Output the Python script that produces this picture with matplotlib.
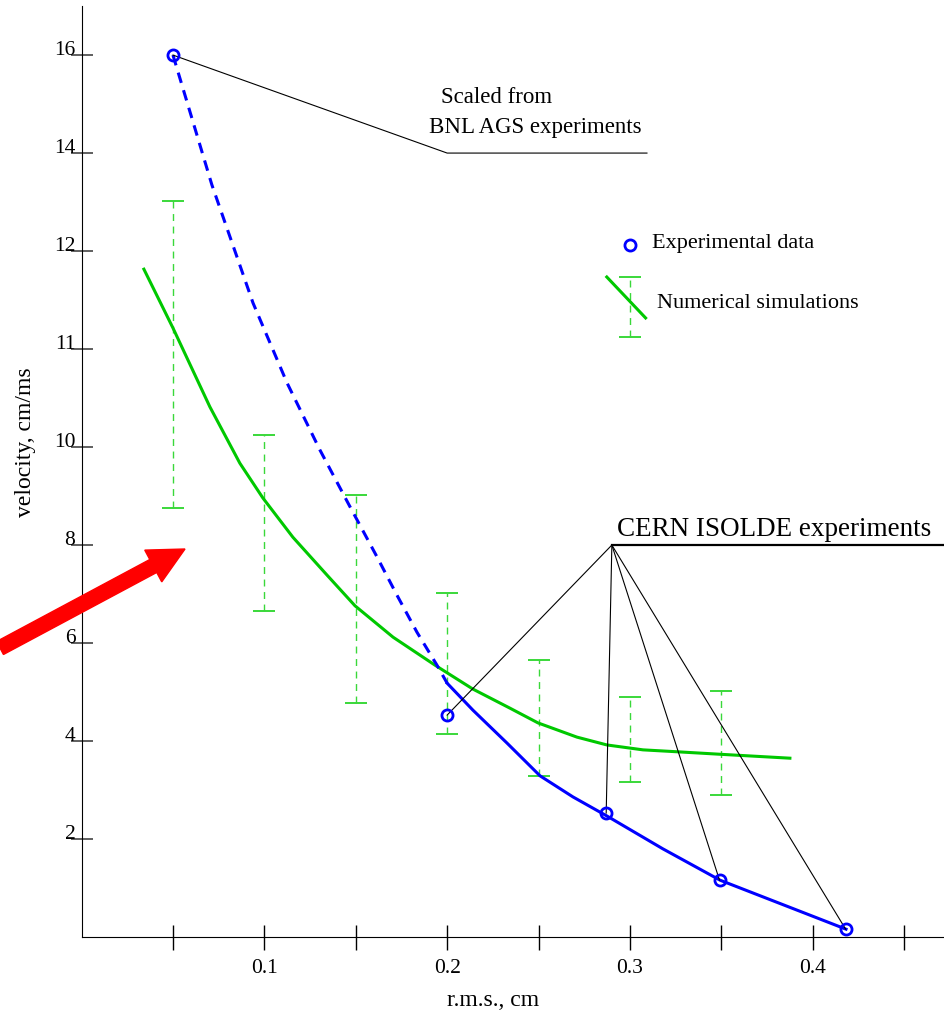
import numpy as np
import matplotlib
matplotlib.use('Agg')
import matplotlib.pyplot as plt
from matplotlib.patches import FancyArrow
from matplotlib.transforms import IdentityTransform

plt.rcParams['font.family'] = ['Liberation Serif', 'DejaVu Serif']

# Experimental data (circles)
exp_x = [0.05, 0.2, 0.287, 0.349, 0.418]
exp_y = [18.0, 4.53, 2.53, 1.16, 0.16]

# Dashed curve (scaled BNL AGS)
bnl_x = [0.05, 0.0713, 0.0938, 0.1124, 0.1304, 0.1463, 0.1616, 0.1725,
         0.1835, 0.1944, 0.2]
bnl_y = [18.0, 15.35, 12.94, 11.31, 9.94, 8.82, 7.76, 6.98,
         6.22, 5.55, 5.18]

# Solid blue curve (CERN ISOLDE)
cern_x = [0.2, 0.2141, 0.2327, 0.2508, 0.2688, 0.2874, 0.3180, 0.3493, 0.4182]
cern_y = [5.18, 4.63, 3.96, 3.29, 2.86, 2.47, 1.80, 1.16, 0.16]

# Numerical simulations curve
sim_x = [0.0341, 0.05, 0.0702, 0.0866, 0.0992, 0.1156, 0.1342, 0.1496,
         0.1704, 0.1933, 0.2141, 0.2344, 0.2497, 0.2710, 0.2874, 0.3071,
         0.3262, 0.3493, 0.3875]
sim_y = [13.63, 12.43, 10.82, 9.67, 8.96, 8.16, 7.39, 6.76,
         6.12, 5.55, 5.06, 4.67, 4.37, 4.08, 3.92, 3.82,
         3.78, 3.73, 3.65]

# Simulation error bars
err_x = [0.05, 0.1, 0.15, 0.2, 0.25, 0.3, 0.35]
err_lo = [8.76, 6.65, 4.78, 4.14, 3.29, 3.16, 2.90]
err_hi = [15.02, 10.24, 9.02, 7.02, 5.65, 4.90, 5.02]

# y axis ticks (labels as printed in the original)
ytick_pos = [2, 4, 6, 8, 10, 12, 14, 16, 18]
ytick_lab = ['2', '4', '6', '8', '10', '11', '12', '14', '16']

blue = '#0000ff'
green = '#00c800'
lgreen = '#3ad83a'

fig = plt.figure(figsize=(9.44, 10.13), dpi=100)
ax = fig.add_axes([0.0864, 0.075, 0.9136, 0.919])
ax.set_xlim(0, 0.4718)
ax.set_ylim(0, 19.0)
ax.spines['top'].set_visible(False)
ax.spines['right'].set_visible(False)

# error bars
ax.vlines(err_x, err_lo, err_hi, colors=lgreen, linestyles=(0, (5, 4)), lw=1.0)
ax.plot(err_x, err_lo, ls='none', marker='_', ms=16, mew=1.4, color=lgreen)
ax.plot(err_x, err_hi, ls='none', marker='_', ms=16, mew=1.4, color=lgreen)

# curves
ax.plot(sim_x, sim_y, color=green, lw=2.2, solid_joinstyle='round')
ax.plot(bnl_x, bnl_y, color=blue, lw=2.2, dashes=(3.5, 2.5))
ax.plot(cern_x, cern_y, color=blue, lw=2.2, solid_joinstyle='round')

# annotation lines
hub = (0.2901, 8.0)
for px, py in zip(exp_x[1:], exp_y[1:]):
    ax.plot([hub[0], px], [hub[1], py], color='black', lw=0.8)
ax.plot([hub[0], 0.4718], [hub[1], hub[1]], color='black', lw=1.6, clip_on=False)
ax.text(0.2929, 8.06, 'CERN ISOLDE experiments', fontsize=19.5, ha='left', va='bottom')

ax.plot([exp_x[0], 0.2, 0.3093], [exp_y[0], 16.0, 16.0], color='black', lw=0.8)
ax.text(0.2272, 17.14, 'Scaled from', fontsize=16.5, ha='center', va='center')
ax.text(0.248, 16.53, 'BNL AGS experiments', fontsize=16.5, ha='center', va='center')

ax.plot(exp_x, exp_y, ls='none', marker='o', ms=8, mfc='none', mec=blue, mew=2)

# hand-drawn legend (axes fraction)
ax.plot([0.636], [0.743], transform=ax.transAxes, marker='o', ms=8, mfc='none', mec=blue, mew=2)
ax.text(0.661, 0.745, 'Experimental data', transform=ax.transAxes, fontsize=16, va='center')
ax.plot([0.636, 0.636], [0.645, 0.709], transform=ax.transAxes, color=lgreen, lw=1.0, ls=(0, (5, 4)))
ax.plot([0.636, 0.636], [0.645, 0.709], transform=ax.transAxes, ls='none', marker='_', ms=16, mew=1.4, color=lgreen)
ax.plot([0.609, 0.654], [0.709, 0.665], transform=ax.transAxes, color=green, lw=2.2)
ax.text(0.667, 0.680, 'Numerical simulations', transform=ax.transAxes, fontsize=16, va='center')

# ticks
ax.set_xticks([0.1, 0.2, 0.3, 0.4])
ax.set_xticklabels(['0.1', '0.2', '0.3', '0.4'])
ax.set_xticks([0.05, 0.15, 0.25, 0.35, 0.45], minor=True)
ax.tick_params(axis='x', which='both', direction='inout', length=18, width=1.0, labelsize=15.5, pad=6.5)
ax.set_yticks(ytick_pos)
ax.set_yticklabels(ytick_lab)
ax.tick_params(axis='y', direction='inout', length=16, width=1.2, color='#444444', labelsize=15.5, pad=-3.6)
for t in ax.get_yticklabels():
    t.set_va('baseline')

fig.text(0.0265, 0.5636, 'velocity, cm/ms', rotation=90, fontsize=17, ha='center', va='center')
fig.text(0.5222, 0.0128, 'r.m.s., cm', fontsize=17, ha='center', va='center')

# red arrow (figure pixels)
arr = FancyArrow(0, 365, 185, 99, width=14.7, head_width=36, head_length=36,
                 length_includes_head=True, color='#ff0000', transform=IdentityTransform())
fig.patches.append(arr)

fig.savefig('out.png', dpi=100)
